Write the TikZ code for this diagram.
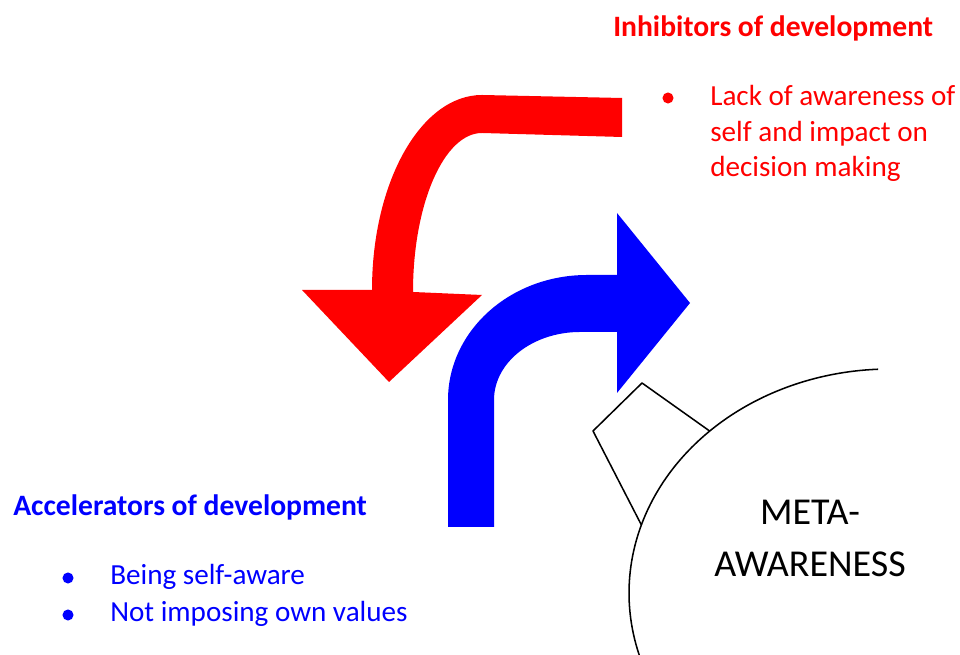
\documentclass[tikz,border=0pt]{standalone}
\usepackage{fontspec}
\setmainfont{Carlito}
\begin{document}
\begin{tikzpicture}[x=0.75pt,y=0.75pt,
  redtxt/.style={anchor=base west,inner sep=0pt,text=red,font=\fontsize{21.85}{26}\selectfont},
  bluetxt/.style={anchor=base west,inner sep=0pt,text=blue,font=\fontsize{21.85}{26}\selectfont},
  titlefont/.style={font=\bfseries\fontsize{22.2}{26}\selectfont},
  bulletdot/.style={circle,fill=#1,inner sep=0pt,minimum size=8.3pt},
  outline/.style={draw=black,line width=1.15pt,line join=round}]
\useasboundingbox (0,0) rectangle (960,655);
% red arrow (inhibitors)
\fill[red] (622,557) -- (482,560) .. controls (421,560) and (372,473) .. (372,365)
  -- (302,365) -- (389,273) -- (482,360) -- (413,363)
  .. controls (413,451) and (444,522) .. (482,522) -- (622,518) -- cycle;
% blue arrow (accelerators)
\fill[blue] (448,128) -- (448,255) .. controls (448,324) and (510,380) .. (587,380)
  -- (617,380) -- (617,442) -- (690,352) -- (617,262) -- (617,323) -- (580,323)
  .. controls (533,323) and (494,293) .. (494,255) -- (494,128) -- cycle;
% meta-awareness head
\path (890,62) ++(92.6:261 and 224) coordinate (arcstart);
\path (890,62) ++(133.7:261 and 224) coordinate (kr);
\path (890,62) ++(162.3:261 and 224) coordinate (kb);
\coordinate (kt) at (642,272);
\coordinate (kl) at (593,224);
\draw[outline] (arcstart) arc[start angle=92.6,end angle=196.1,x radius=261,y radius=224];
\draw[outline] (kr) -- (kt) -- (kl) -- (kb);
\node[inner sep=0pt,anchor=base,font=\fontsize{28.5}{34}\selectfont] (meta) at (810,130) {META-};
\node[inner sep=0pt,anchor=base,font=\fontsize{28.5}{34}\selectfont] (aware) at (810,78) {AWARENESS};
% inhibitors text
\node[redtxt,titlefont] (inhtitle) at (613,618) {Inhibitors of development};
\node[bulletdot=red] (inhb) at (668,557) {};
\node[redtxt] (inh1) at (710,549) {Lack of awareness of};
\node[redtxt] (inh2) at (710,513) {self and impact on};
\node[redtxt] (inh3) at (710,478) {decision making};
% accelerators text
\node[bluetxt,titlefont] (acctitle) at (13,139) {Accelerators of development};
\node[bulletdot=blue] (accb1) at (68,77) {};
\node[bluetxt] (acc1) at (110,70) {Being self-aware};
\node[bulletdot=blue] (accb2) at (68,40) {};
\node[bluetxt] (acc2) at (110,33) {Not imposing own values};
\end{tikzpicture}
\end{document}
